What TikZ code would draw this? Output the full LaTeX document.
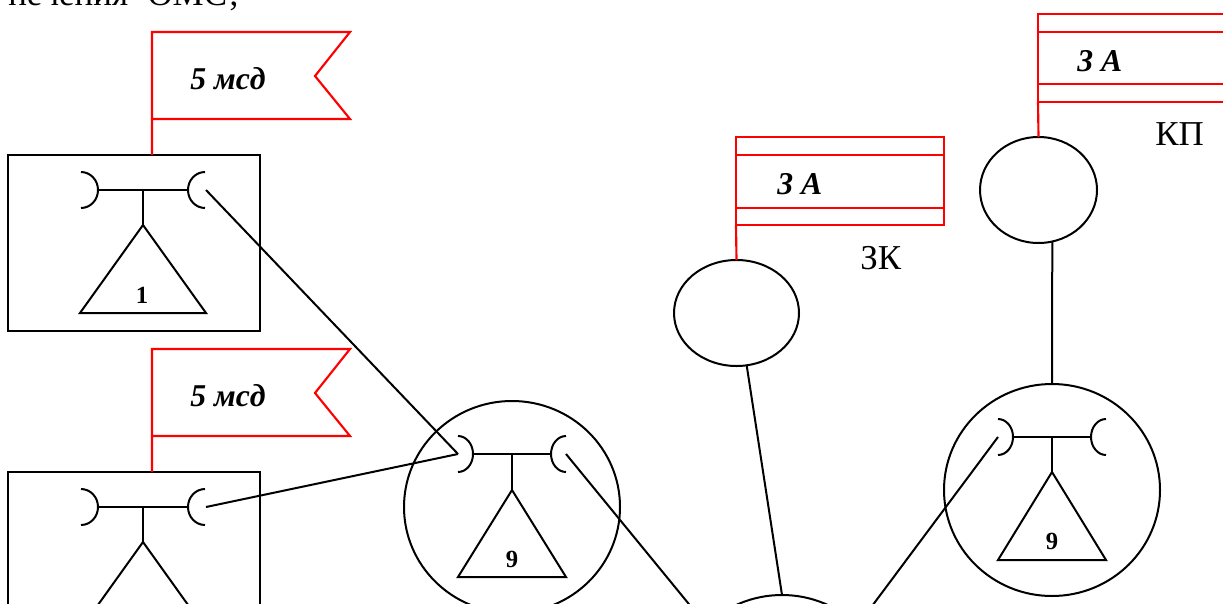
\documentclass[tikz,border=0pt]{standalone}
\usepackage{fontspec}
\setmainfont{Liberation Serif}
\usetikzlibrary{shapes.geometric}
\newcommand{\tsym}[8]{% name, cx, bar y, tip offset, belly offset, stem, tri half width, tri height
  \coordinate (#1-l) at ({#2-#4},{#3});
  \coordinate (#1-r) at ({#2+#4},{#3});
  \draw[blk] ({#2-#4},{#3-18}) .. controls ({#2-#5-0.45*(#4-#5)},{#3-18}) and ({#2-#5},{#3-10}) .. ({#2-#5},{#3}) .. controls ({#2-#5},{#3+10}) and ({#2-#5-0.45*(#4-#5)},{#3+18}) .. ({#2-#4},{#3+18});
  \draw[blk] ({#2+#4},{#3-18}) .. controls ({#2+#5+0.45*(#4-#5)},{#3-18}) and ({#2+#5},{#3-10}) .. ({#2+#5},{#3}) .. controls ({#2+#5},{#3+10}) and ({#2+#5+0.45*(#4-#5)},{#3+18}) .. ({#2+#4},{#3+18});
  \draw[blk] ({#2-#5},{#3}) -- ({#2+#5},{#3});
  \draw[blk] ({#2},{#3}) -- ({#2},{#3+#6});
  \draw[blk,line join=miter] ({#2},{#3+#6}) -- ({#2-#7},{#3+#6+#8}) -- ({#2+#7},{#3+#6+#8}) -- cycle;
}
\tikzset{
  x=0.75pt,y=-0.75pt,
  blk/.style={draw=black,line width=1.5pt},
  framebox/.style={draw=black,line width=1.7pt,rectangle,inner sep=0pt,outer sep=0pt,anchor=north west},
  ring/.style={draw=black,line width=1.5pt,ellipse,inner sep=0pt,outer sep=0pt},
  rd/.style={draw=red,line width=1.6pt},
  flagrect/.style={draw=red,line width=1.6pt,rectangle,inner sep=0pt,outer sep=0pt,anchor=north west,minimum width=156pt,minimum height=66pt},
  tag/.style={inner sep=0pt,anchor=base west,font=\fontsize{23.8pt}{26pt}\selectfont\bfseries\itshape},
  num/.style={inner sep=0pt,anchor=base,font=\fontsize{18.5pt}{20pt}\selectfont\bfseries},
  plain/.style={inner sep=0pt,anchor=base west,font=\fontsize{26.2pt}{28pt}\selectfont},
}
\begin{document}
\begin{tikzpicture}
\useasboundingbox (0,0) rectangle (1223,603);
\clip (0,0) rectangle (1223,603);
\fill[white] (0,0) rectangle (1223,603);

\node[plain] (head) at (8,6) {печения\hspace{8pt} ОМС\hspace{1.5pt};};

% boxes
\node[framebox,minimum width=189pt,minimum height=132pt] (boxa) at (8,155) {};
\node[framebox,minimum width=189pt,minimum height=132pt] (boxb) at (8,472) {};

% rings
\node[ring,minimum width=162pt,minimum height=159pt] (ringa) at (512,507) {};
\node[ring,minimum width=162pt,minimum height=159pt] (ringb) at (1052,490) {};
\node[ring,minimum width=162pt,minimum height=159pt] (ringc) at (782,701) {};
\node[ring,minimum width=93.75pt,minimum height=79.5pt] (zk) at (736.5,313) {};
\node[ring,minimum width=87.75pt,minimum height=79.5pt] (kp) at (1038.5,190) {};

% symbols
\tsym{sa}{143}{190}{62}{45}{35}{63}{88}
\tsym{sb}{143}{507}{62}{45}{35}{63}{88}
\tsym{sc}{512}{454}{54}{39}{36}{54}{87}
\tsym{sd}{1052}{437}{54}{39}{35}{54}{88}
\node[num] (na) at (142,303.5) {1};
\node[num] (nc) at (512,567) {9};
\node[num] (nd) at (1052,549.5) {9};

% pennant flags
\coordinate (fa) at (152,32);
\draw[rd,line join=miter] (boxa.north west -| fa) -- (fa) -- (350,32) -- (315,76) -- (350,119) -- (152,119);
\coordinate (fb) at (152,349);
\draw[rd,line join=miter] (boxb.north west -| fb) -- (fb) -- (350,349) -- (315,393) -- (350,436) -- (152,436);
\node[tag] (ta) at (190,89) {5 мсд};
\node[tag] (tb) at (190,406) {5 мсд};

% rectangular flags
\node[flagrect] (fzk) at (736,137) {};
\draw[rd] (736,155) -- (944,155) (736,208) -- (944,208);
\draw[rd] (fzk.south west) -- (zk.north);
\node[flagrect] (fkp) at (1038,14) {};
\draw[rd] (1038,32) -- (1245,32) (1038,84) -- (1245,84);
\draw[rd] (fkp.south west) -- (kp.north);
\node[tag] (tzk) at (777,194) {3 А};
\node[tag] (tkp) at (1077,71) {3 А};
\node[plain] (lzk) at (860,269) {ЗК};
\node[plain] (lkp) at (1155,145.5) {КП};

% links
\draw[blk] (sa-r) ++(1,0) -- (sc-l);
\draw[blk] (sb-r) ++(1,0) -- (sc-l);
\draw[blk] (sc-r) -- (ringc.135);
\draw[blk] (sd-l) -- (ringc.45);
\draw[blk] (zk.-79.7) -- (ringc.north);
\draw[blk] (kp.-75.3) -- (ringb.north);
\end{tikzpicture}
\end{document}
